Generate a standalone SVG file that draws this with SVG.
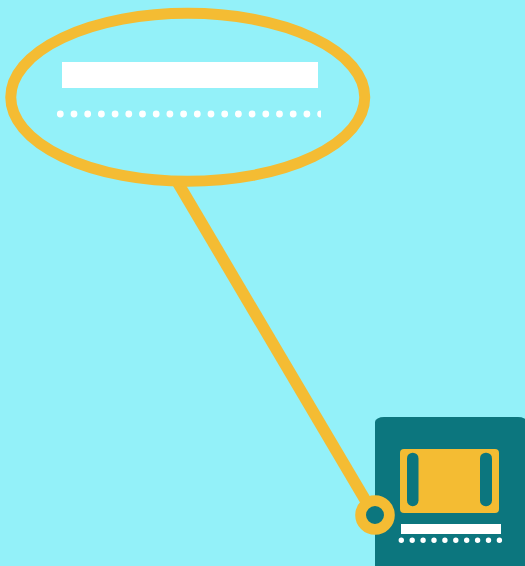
<svg xmlns="http://www.w3.org/2000/svg" width="525" height="566" viewBox="0 0 525 566">
  <style>
    .y { fill: #f4bc33; }
    .t { fill: #0c767e; }
    .w { fill: #ffffff; }
    .ln { stroke: #f4bc33; stroke-width: 11; fill: none; }
    .dots { stroke: #ffffff; stroke-linecap: round; fill: none; }
  </style>
  <defs>
    <clipPath id="dotclip"><rect x="50" y="105" width="271" height="18"/></clipPath>
  </defs>
  <rect width="525" height="566" fill="#93f1f9"/>
  <g id="connectors">
    <line class="ln" style="stroke-width:11.6" x1="178" y1="183" x2="370" y2="508"/>
  </g>
  <g id="bubble">
    <ellipse class="ln" cx="187.75" cy="97.3" rx="177" ry="84"/>
    <rect class="w" x="62" y="62" width="256" height="26"/>
    <line class="dots" clip-path="url(#dotclip)" x1="60.3" y1="114" x2="322" y2="114" stroke-width="6.8" stroke-dasharray="0 13.7"/>
  </g>
  <g id="card">
    <rect class="t" x="375" y="417" width="152" height="160" rx="9" ry="5"/>
    <rect class="y" x="400" y="449" width="99" height="64" rx="4"/>
    <rect class="t" x="407" y="452.7" width="11.5" height="53.5" rx="5.7"/>
    <rect class="t" x="480" y="452.7" width="12" height="53.5" rx="5.7"/>
    <rect class="w" x="401" y="524" width="100" height="10"/>
    <line class="dots" x1="401.3" y1="540.3" x2="500" y2="540.3" stroke-width="5.4" stroke-dasharray="0 10.9"/>
  </g>
  <g id="pin">
    <circle class="t" cx="375" cy="515" r="14.4" stroke="#f4bc33" stroke-width="10.8"/>
  </g>
</svg>
